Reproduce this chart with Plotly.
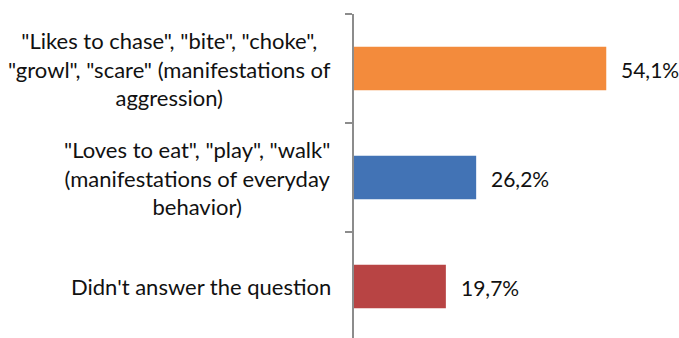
import plotly.graph_objects as go

categories = [
    '"Likes to chase", "bite", "choke",<br>"growl", "scare" (manifestations of<br>aggression)',
    '"Loves to eat", "play", "walk"<br>(manifestations of everyday<br>behavior)',
    "Didn't answer the question",
]
values = [54.1, 26.2, 19.7]
colors = ["#F38B3C", "#4273B5", "#B84444"]

FONT = "Lato"
TXT = "#111111"

fig = go.Figure()
fig.add_trace(go.Bar(
    y=list(range(len(categories))),
    x=values,
    orientation="h",
    marker=dict(color=colors, line=dict(width=0)),
    width=0.4,
    hoverinfo="skip",
))

annotations = []
for i, (c, v) in enumerate(zip(categories, values)):
    annotations.append(dict(
        x=0, xref="paper", y=i, yref="y", text=c, showarrow=False,
        xanchor="right", yanchor="middle", align="center", xshift=-21,
        font=dict(family=FONT, size=22, color=TXT),
    ))
    annotations.append(dict(
        x=v, xref="x", y=i, yref="y", text=f"{v:.1f}%".replace(".", ","),
        showarrow=False, xanchor="left", yanchor="middle", xshift=13, yshift=-1,
        font=dict(family=FONT, size=21, color=TXT),
    ))

fig.update_layout(
    width=679, height=338,
    margin=dict(l=354, r=0, t=14, b=0),
    plot_bgcolor="white", paper_bgcolor="white",
    showlegend=False,
    annotations=annotations,
    xaxis=dict(range=[0, 69.7], visible=False, fixedrange=True),
    yaxis=dict(
        range=[2.472, -0.5],
        tickmode="array", tickvals=[-0.5, 0.5, 1.5, 2.5],
        showticklabels=False,
        ticks="outside", ticklen=7, tickwidth=2, tickcolor="#8c8c8c",
        showline=True, linecolor="#8c8c8c", linewidth=2,
        showgrid=False, zeroline=False,
    ),
)

fig.write_html("out.html")
